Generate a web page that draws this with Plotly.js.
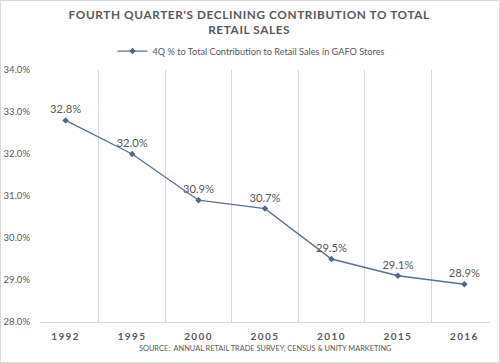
<!DOCTYPE html>
<html><head><meta charset="utf-8">
<script src="https://cdn.plot.ly/plotly-3.0.1.min.js"></script>
<style>
html,body{margin:0;padding:0;background:#fff;}
#frame{position:absolute;left:0;top:0;width:498px;height:361px;border:1px solid #d9d9d9;}
#chart{position:absolute;left:-1px;top:-1px;width:500px;height:363px;}
.xtick text{letter-spacing:1.4px;}
</style>
</head><body>
<div id="frame"><div id="chart"></div></div>
<script>
var years = ['1992','1995','2000','2005','2010','2015','2016'];
var shares = [32.8, 32.0, 30.9, 30.7, 29.5, 29.1, 28.9];
var seriesName = '4Q % to Total Contribution to Retail Sales in GAFO Stores';
var titleText = "FOURTH QUARTER'S DECLINING CONTRIBUTION TO TOTAL<br>RETAIL SALES";
var sourceText = 'SOURCE:  ANNUAL RETAIL TRADE SURVEY, CENSUS & UNITY MARKETING';

var grey = '#595959';
var fam = 'Lato, sans-serif';
var trace = {
  x: years, y: shares, name: seriesName, type: 'scatter',
  mode: 'lines+markers+text',
  line: {color: '#5a7390', width: 1.4},
  marker: {color: '#4e6a88', size: 5, symbol: 'diamond'},
  texttemplate: '%{y:.1f}%', textposition: 'top center',
  textfont: {family: fam, size: 11.2, color: grey},
  cliponaxis: false
};
var layout = {
  width: 500, height: 363,
  margin: {l: 40, r: 10, t: 70, b: 41},
  paper_bgcolor: 'rgba(0,0,0,0)', plot_bgcolor: '#fff',
  font: {family: fam, color: grey},
  showlegend: true,
  legend: {orientation: 'h', x: 0.47, xanchor: 'center', y: 1.075, yanchor: 'middle',
    font: {family: fam, size: 9.2, color: grey}, itemwidth: 30},
  xaxis: {type: 'category', tickson: 'boundaries', showgrid: true, gridcolor: '#d9d9d9', gridwidth: 1,
    showline: true, linecolor: '#d9d9d9', ticks: '', zeroline: false, automargin: false,
    tickfont: {family: fam, size: 10, color: grey, weight: 'bold'}, ticklabelstandoff: 5},
  yaxis: {range: [28, 34], dtick: 1, tickformat: '.1f', ticksuffix: '%', showgrid: false,
    zeroline: false, showline: false, ticks: '', automargin: false,
    tickfont: {family: fam, size: 9.5, color: grey}, ticklabelstandoff: 9},
  annotations: [
    {text: titleText, xref: 'paper', yref: 'paper', x: 0.464, y: 1.19, xanchor: 'center', yanchor: 'middle',
      showarrow: false, font: {family: fam, size: 11.8, color: grey, weight: 'bold'}},
    {text: sourceText, xref: 'paper', yref: 'paper', x: 0.5, y: -0.107, xanchor: 'center',
      yanchor: 'middle', showarrow: false, font: {family: fam, size: 7.4, color: grey}}
  ]
};
Plotly.newPlot('chart', [trace], layout, {displayModeBar: false, staticPlot: true}).then(function(gd){
  var t = gd.querySelectorAll('.annotation-text');
  if (t[0]) t[0].style.letterSpacing = '0.6px';
});
</script>
</body></html>
